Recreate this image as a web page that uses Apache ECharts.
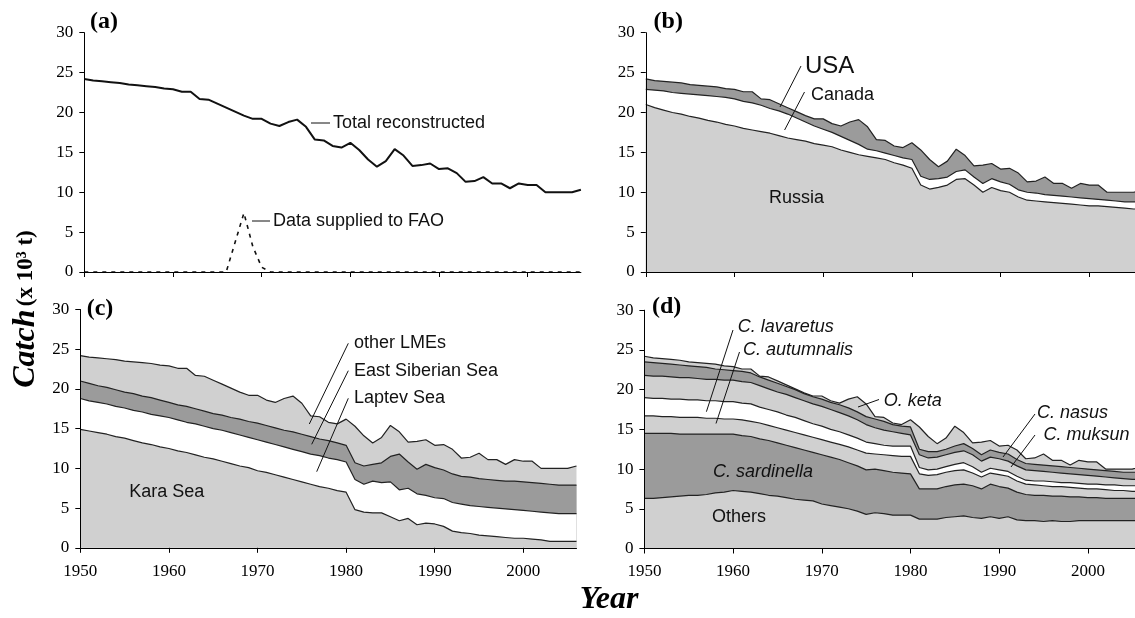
<!DOCTYPE html>
<html>
<head>
<meta charset="utf-8">
<script src="https://cdn.jsdelivr.net/npm/echarts@6/dist/echarts.min.js"></script>
<style>
  html, body { margin: 0; padding: 0; background: #fff; }
  #chart { width: 1135px; height: 618px; }
</style>
</head>
<body>
<div id="chart"></div>
<script>
// years on the x axis
const years = [1950, 1951, 1952, 1953, 1954, 1955, 1956, 1957, 1958, 1959,
  1960, 1961, 1962, 1963, 1964, 1965, 1966, 1967, 1968, 1969,
  1970, 1971, 1972, 1973, 1974, 1975, 1976, 1977, 1978, 1979,
  1980, 1981, 1982, 1983, 1984, 1985, 1986, 1987, 1988, 1989,
  1990, 1991, 1992, 1993, 1994, 1995, 1996, 1997, 1998, 1999,
  2000, 2001, 2002, 2003, 2004, 2005, 2006];
const yTicks = [0, 5, 10, 15, 20, 25, 30];

// (a) total reconstructed catch (x 10^3 t) and data supplied to FAO
const total = [24.2, 24.0, 23.9, 23.8, 23.7, 23.5, 23.4, 23.3, 23.2, 23.0, 22.9,
  22.6, 22.6, 21.7, 21.6, 21.1, 20.6, 20.1, 19.6, 19.2, 19.2,
  18.6, 18.3, 18.8, 19.1, 18.2, 16.6, 16.5, 15.8, 15.6, 16.2,
  15.3, 14.1, 13.2, 13.9, 15.4, 14.6, 13.3, 13.4, 13.6, 12.9,
  13.0, 12.4, 11.3, 11.4, 11.9, 11.1, 11.1, 10.5, 11.1, 10.9,
  10.9, 10.0, 10.0, 10.0, 10.0, 10.3];
const fao = [0, 0, 0, 0, 0, 0, 0, 0, 0, 0, 0, 0, 0, 0, 0, 0,
  0, 3.7, 7.4, 3.2, 0.6,
  0, 0, 0, 0, 0, 0, 0, 0, 0, 0, 0, 0, 0, 0, 0, 0, 0, 0,
  0, 0, 0, 0, 0, 0, 0, 0, 0, 0, 0, 0, 0, 0, 0, 0, 0, 0];

// (b) upper edges of the country layers (USA fills up to total)
const russia = [21.0, 20.6, 20.3, 20.0, 19.8, 19.5, 19.3, 19.0, 18.8, 18.5, 18.3,
  18.0, 17.8, 17.6, 17.4, 17.1, 16.8, 16.6, 16.4, 16.1, 15.9,
  15.7, 15.3, 15.0, 14.7, 14.5, 14.3, 14.1, 13.7, 13.4, 13.0,
  10.9, 10.4, 10.6, 10.9, 11.6, 11.7, 10.9, 10.0, 10.6, 10.2,
  10.0, 9.4, 9.0, 8.9, 8.8, 8.7, 8.6, 8.5, 8.4, 8.3,
  8.3, 8.2, 8.1, 8.0, 7.9, 7.9];
const russiaCanada = [22.9, 22.8, 22.7, 22.5, 22.4, 22.3, 22.2, 22.1, 22.0, 21.9, 21.7,
  21.4, 21.2, 20.9, 20.5, 20.2, 19.8, 19.3, 18.8, 18.3, 17.9,
  17.5, 17.0, 16.5, 16.0, 15.4, 15.2, 14.9, 14.6, 14.3, 14.1,
  12.0, 11.6, 11.7, 11.9, 12.6, 12.8, 11.9, 11.1, 11.7, 11.3,
  11.0, 10.3, 10.0, 9.9, 9.7, 9.6, 9.5, 9.4, 9.3, 9.2,
  9.1, 9.0, 8.9, 8.8, 8.8, 8.8];

// (c) upper edges of the sea layers (other LMEs fill up to total)
const karaSea = [14.9, 14.7, 14.5, 14.3, 14.0, 13.8, 13.5, 13.2, 13.0, 12.7, 12.5,
  12.2, 12.0, 11.7, 11.4, 11.2, 10.9, 10.6, 10.3, 10.1, 9.7,
  9.5, 9.2, 8.9, 8.6, 8.3, 8.0, 7.7, 7.5, 7.2, 7.0,
  4.8, 4.5, 4.4, 4.4, 3.9, 3.4, 3.7, 2.9, 3.1, 3.0,
  2.7, 2.1, 1.9, 1.8, 1.6, 1.5, 1.4, 1.3, 1.2, 1.2,
  1.1, 1.0, 0.8, 0.8, 0.8, 0.8];
const plusLaptev = [18.8, 18.5, 18.3, 18.1, 17.8, 17.6, 17.3, 17.1, 16.8, 16.6, 16.4,
  16.1, 15.8, 15.6, 15.3, 15.0, 14.8, 14.5, 14.2, 13.9, 13.6,
  13.3, 13.0, 12.7, 12.4, 12.1, 11.8, 11.6, 11.3, 11.1, 10.8,
  8.6, 8.0, 8.4, 8.2, 8.3, 7.3, 7.5, 6.8, 6.6, 6.3,
  6.2, 5.7, 5.5, 5.3, 5.2, 5.1, 5.0, 4.9, 4.8, 4.7,
  4.6, 4.5, 4.4, 4.3, 4.3, 4.3];
const plusEastSiberian = [21.0, 20.7, 20.4, 20.2, 19.9, 19.6, 19.4, 19.1, 18.9, 18.6, 18.3,
  18.0, 17.8, 17.5, 17.2, 16.9, 16.7, 16.4, 16.2, 15.9, 15.7,
  15.4, 15.1, 14.8, 14.6, 14.3, 14.0, 13.7, 13.5, 13.2, 12.9,
  10.7, 10.3, 10.5, 10.7, 11.5, 11.8, 10.8, 9.9, 10.5, 10.1,
  9.8, 9.3, 9.0, 8.9, 8.7, 8.6, 8.5, 8.4, 8.4, 8.3,
  8.2, 8.1, 8.0, 7.9, 7.9, 7.9];

// (d) upper edges of the taxon layers (O. keta fills up to total)
const others = [6.3, 6.3, 6.4, 6.5, 6.6, 6.7, 6.7, 6.8, 7.0, 7.1, 7.3,
  7.2, 7.1, 6.9, 6.7, 6.6, 6.4, 6.2, 6.1, 6.0, 5.6,
  5.4, 5.2, 5.0, 4.7, 4.3, 4.5, 4.4, 4.2, 4.2, 4.2,
  3.7, 3.7, 3.7, 3.9, 4.0, 4.1, 3.9, 3.8, 4.0, 3.8,
  4.0, 3.6, 3.5, 3.5, 3.4, 3.5, 3.4, 3.4, 3.5, 3.5,
  3.5, 3.5, 3.5, 3.5, 3.5, 3.5];
const plusSardinella = [14.5, 14.5, 14.5, 14.5, 14.4, 14.4, 14.4, 14.4, 14.4, 14.4, 14.4,
  14.2, 14.1, 13.8, 13.6, 13.3, 13.0, 12.7, 12.4, 12.1, 11.8,
  11.5, 11.2, 10.8, 10.4, 9.9, 10.0, 9.8, 9.6, 9.5, 9.4,
  7.5, 7.5, 7.5, 7.8, 8.0, 8.1, 7.9, 7.5, 8.1, 7.8,
  7.6, 7.1, 6.8, 6.7, 6.7, 6.6, 6.6, 6.5, 6.5, 6.4,
  6.4, 6.3, 6.3, 6.3, 6.3, 6.3];
const plusAutumnalis = [16.7, 16.7, 16.6, 16.6, 16.5, 16.5, 16.5, 16.4, 16.4, 16.3, 16.3,
  16.2, 16.0, 15.8, 15.5, 15.2, 14.9, 14.6, 14.3, 14.0, 13.7,
  13.4, 13.1, 12.8, 12.4, 12.0, 11.9, 11.8, 11.7, 11.6, 11.6,
  9.4, 9.2, 9.3, 9.6, 9.8, 9.9, 9.5, 9.0, 9.5, 9.3,
  9.1, 8.5, 8.1, 8.0, 7.9, 7.8, 7.8, 7.7, 7.6, 7.5,
  7.5, 7.4, 7.3, 7.3, 7.2, 7.2];
const plusLavaretus = [19.0, 18.9, 18.9, 18.8, 18.8, 18.7, 18.7, 18.6, 18.6, 18.5, 18.5,
  18.3, 18.2, 17.8, 17.5, 17.2, 16.8, 16.5, 16.1, 15.7, 15.4,
  15.0, 14.7, 14.3, 13.9, 13.4, 13.2, 13.0, 12.9, 12.9, 12.9,
  10.2, 9.9, 10.0, 10.3, 10.6, 10.8, 10.3, 9.6, 10.1, 9.9,
  9.7, 9.1, 8.6, 8.5, 8.5, 8.4, 8.3, 8.3, 8.2, 8.1,
  8.1, 8.0, 8.0, 7.9, 7.9, 7.9];
const plusMuksun = [21.8, 21.7, 21.7, 21.6, 21.5, 21.5, 21.4, 21.3, 21.3, 21.2, 21.2,
  21.0, 20.9, 20.5, 20.1, 19.7, 19.4, 19.0, 18.6, 18.2, 17.9,
  17.5, 17.1, 16.7, 16.2, 15.6, 15.2, 14.9, 14.7, 14.5, 14.3,
  11.8, 11.4, 11.5, 11.8, 12.1, 12.3, 11.8, 11.0, 11.5, 11.3,
  11.0, 10.4, 9.9, 9.8, 9.7, 9.6, 9.5, 9.4, 9.3, 9.2,
  9.1, 9.0, 8.9, 8.8, 8.7, 8.7];
const plusNasus = [23.5, 23.4, 23.3, 23.2, 23.1, 23.0, 22.9, 22.8, 22.6, 22.5, 22.4,
  22.3, 22.1, 21.6, 21.2, 20.8, 20.4, 20.0, 19.5, 19.1, 18.8,
  18.4, 18.1, 17.7, 17.2, 16.6, 16.3, 16.0, 15.6, 15.4, 15.3,
  12.5, 12.2, 12.2, 12.5, 12.9, 13.2, 12.6, 11.8, 12.4, 12.1,
  11.9, 11.2, 10.7, 10.6, 10.5, 10.4, 10.3, 10.2, 10.1, 10.0,
  9.9, 9.8, 9.7, 9.6, 9.6, 9.6];

const LIGHT = '#d0d0d0';
const DARK = '#9b9b9b';
const WHITE = '#ffffff';
const SERIF = '"Liberation Serif", "DejaVu Serif", serif';
const SANS = '"Liberation Sans", Arial, sans-serif';

const chart = echarts.init(document.getElementById('chart'));

function xAx (i, labels) {
  return {
    type: 'category', gridIndex: i, data: years, boundaryGap: false, z: 10,
    axisLine: { lineStyle: { color: '#000', width: 1 } },
    axisTick: { length: 5, interval: (idx) => idx % 10 === 0, lineStyle: { color: '#000' } },
    axisLabel: {
      show: labels, interval: (idx) => idx % 10 === 0, margin: 15,
      fontFamily: SERIF, fontSize: 17, color: '#000'
    },
    splitLine: { show: false }
  };
}
function yAx (i) {
  return {
    type: 'value', gridIndex: i, min: yTicks[0], max: yTicks[yTicks.length - 1], interval: 5, z: 10,
    axisLine: { show: true, lineStyle: { color: '#000', width: 1 } },
    axisTick: { show: true, length: 5, lineStyle: { color: '#000' } },
    axisLabel: { margin: 11, fontFamily: SERIF, fontSize: 17, color: '#000' },
    splitLine: { show: false }
  };
}
// each layer is filled from 0 up to its upper edge, biggest first
function layer (i, name, data, color) {
  return {
    type: 'line', name: name, xAxisIndex: i, yAxisIndex: i, data: data,
    symbol: 'none', silent: true,
    lineStyle: { color: '#222', width: 1.2 },
    areaStyle: { color: color, opacity: 1 }
  };
}

function label (x, y, text, opts) {
  return {
    type: 'text', x: x, y: y, z: 100, silent: true,
    style: Object.assign({
      text: text, fill: '#111', fontFamily: SANS, fontSize: 18,
      align: 'left', verticalAlign: 'middle'
    }, opts || {})
  };
}
function leader (x1, y1, x2, y2) {
  return {
    type: 'line', z: 100, silent: true,
    shape: { x1: x1, y1: y1, x2: x2, y2: y2 },
    style: { stroke: '#111', lineWidth: 1 }
  };
}
function panelTag (x, y, text) {
  return label(x, y, text, { fontFamily: SERIF, fontWeight: 'bold', fontSize: 24, fill: '#000' });
}

chart.setOption({
  animation: false,
  backgroundColor: '#fff',
  grid: [
    { left: 84.3, top: 32.7, width: 496.6, height: 239.3, outerBoundsMode: 'none' },
    { left: 645.8, top: 32.7, width: 496.7, height: 239.3, outerBoundsMode: 'none' },
    { left: 80.3, top: 309.5, width: 496.2, height: 238.3, outerBoundsMode: 'none' },
    { left: 644.4, top: 310.2, width: 496.7, height: 238.3, outerBoundsMode: 'none' }
  ],
  xAxis: [xAx(0, false), xAx(1, false), xAx(2, true), xAx(3, true)],
  yAxis: [yAx(0), yAx(1), yAx(2), yAx(3)],
  series: [
    {
      type: 'line', name: 'Total reconstructed', xAxisIndex: 0, yAxisIndex: 0, data: total,
      symbol: 'none', silent: true, lineStyle: { color: '#111', width: 2 }
    },
    {
      type: 'line', name: 'Data supplied to FAO', xAxisIndex: 0, yAxisIndex: 0, data: fao,
      symbol: 'none', silent: true, lineStyle: { color: '#111', width: 1.6, type: [4, 5] }
    },
    layer(1, 'USA', total, DARK),
    layer(1, 'Canada', russiaCanada, WHITE),
    layer(1, 'Russia', russia, LIGHT),
    layer(2, 'other LMEs', total, LIGHT),
    layer(2, 'East Siberian Sea', plusEastSiberian, DARK),
    layer(2, 'Laptev Sea', plusLaptev, WHITE),
    layer(2, 'Kara Sea', karaSea, LIGHT),
    layer(3, 'O. keta', total, LIGHT),
    layer(3, 'C. nasus', plusNasus, DARK),
    layer(3, 'C. muksun', plusMuksun, LIGHT),
    layer(3, 'C. lavaretus', plusLavaretus, WHITE),
    layer(3, 'C. autumnalis', plusAutumnalis, LIGHT),
    layer(3, 'C. sardinella', plusSardinella, DARK),
    layer(3, 'Others', others, LIGHT)
  ],
  graphic: [
    panelTag(90, 21.5, '(a)'),
    panelTag(653.6, 21.5, '(b)'),
    panelTag(86.7, 309, '(c)'),
    panelTag(652, 307, '(d)'),

    label(333, 123, 'Total reconstructed'),
    leader(311, 123, 330, 123),
    label(273, 221, 'Data supplied to FAO'),
    leader(252, 221, 270, 221),

    label(805, 66, 'USA', { fontSize: 24 }),
    leader(801, 66, 780, 107),
    label(811, 95, 'Canada'),
    leader(804.5, 92, 784.6, 130),
    label(769, 198, 'Russia'),

    label(354, 343.3, 'other LMEs'),
    leader(348.3, 343.3, 309.3, 424),
    label(354, 370.7, 'East Siberian Sea'),
    leader(348.3, 370.7, 311.7, 444.3),
    label(354, 398.3, 'Laptev Sea'),
    leader(348.3, 398.3, 316.7, 471.7),
    label(129.3, 492.3, 'Kara Sea'),

    label(737.7, 327.3, 'C. lavaretus', { fontStyle: 'italic' }),
    leader(733, 330, 706.4, 411.7),
    label(743, 350, 'C. autumnalis', { fontStyle: 'italic' }),
    leader(739.5, 352, 716, 423.5),
    label(883.7, 400.7, 'O. keta', { fontStyle: 'italic' }),
    leader(879, 399.5, 858, 407),
    label(1037, 413.3, 'C. nasus', { fontStyle: 'italic' }),
    leader(1035, 414, 1003, 457),
    label(1043.5, 435, 'C. muksun', { fontStyle: 'italic' }),
    leader(1035, 435, 1011, 467),
    label(713, 472, 'C. sardinella', { fontStyle: 'italic' }),
    label(712, 517.3, 'Others'),

    {
      type: 'text', x: 26, y: 309, rotation: Math.PI / 2, silent: true,
      style: {
        text: '{c|Catch} {u|(x 10³ t)}',
        align: 'center', verticalAlign: 'middle',
        rich: {
          c: { fontFamily: SERIF, fontSize: 32, fontWeight: 'bold', fontStyle: 'italic', fill: '#000' },
          u: { fontFamily: SERIF, fontSize: 23, fontWeight: 'bold', fill: '#000' }
        }
      }
    },
    label(609, 600, 'Year', {
      align: 'center', fontFamily: SERIF, fontSize: 32, fontWeight: 'bold', fontStyle: 'italic', fill: '#000'
    })
  ]
});
</script>
</body>
</html>
